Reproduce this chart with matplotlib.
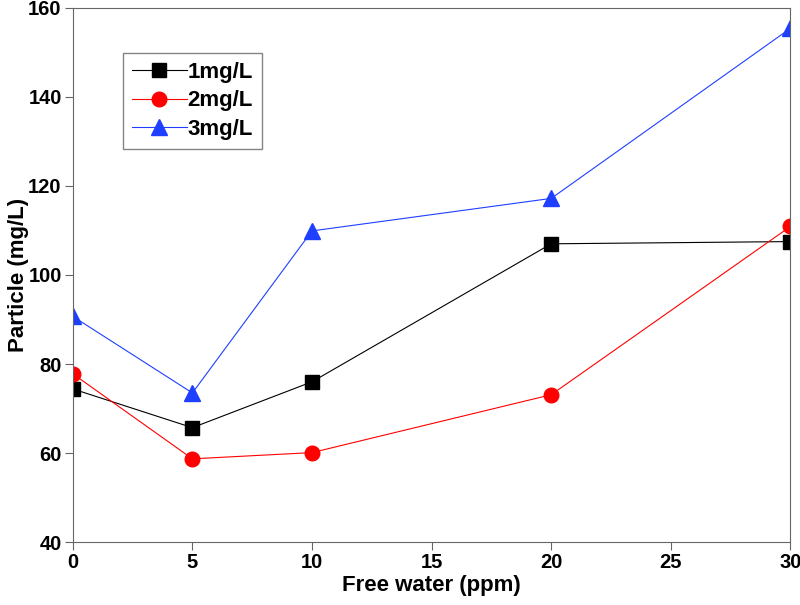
import numpy as np
import matplotlib.pyplot as plt

plt.rcParams['font.family'] = ['Liberation Sans', 'DejaVu Sans']
plt.rcParams['font.weight'] = 'bold'

x = [0, 5, 10, 20, 30]
y1 = [74.4, 65.7, 76.0, 107.0, 107.5]
y2 = [77.8, 58.7, 60.1, 73.1, 110.9]
y3 = [90.7, 73.5, 109.9, 117.2, 155.4]
labels = ['1mg/L', '2mg/L', '3mg/L']

fig = plt.figure(figsize=(8, 6.05), dpi=100)
ax = fig.add_axes([0.091, 0.104, 0.897, 0.883])

ax.plot(x, y1, color='black', lw=0.8, marker='s', ms=10, label=labels[0])
ax.plot(x, y2, color='#ff0000', lw=0.8, marker='o', ms=10.5, label=labels[1])
ax.plot(x, y3, color='#1f3fff', lw=0.8, marker='^', ms=12, label=labels[2])

ax.set_xlim(0, 30)
ax.set_ylim(40, 160)
ax.set_xticks([0, 5, 10, 15, 20, 25, 30])
ax.set_yticks(np.arange(40, 161, 20))
ax.tick_params(labelsize=14.5, color='#666666', direction='out', length=6, pad=2)
for s in ax.spines.values():
    s.set_color('#666666')
for lab in ax.get_xticklabels() + ax.get_yticklabels():
    lab.set_fontweight('bold')

ax.set_xlabel('Free water (ppm)', fontsize=16, fontweight='bold', labelpad=2)
ax.set_ylabel('Particle (mg/L)', fontsize=16, fontweight='bold')
ax.yaxis.set_label_coords(-0.061, 0.5)

leg = ax.legend(loc='upper left', bbox_to_anchor=(0.0697, 0.916), borderaxespad=0,
                fontsize=16, fancybox=False, edgecolor='#666666', handlelength=2.5,
                handletextpad=0.0, borderpad=0.4, labelspacing=0.35)
leg.get_frame().set_linewidth(1.0)
for t in leg.get_texts():
    t.set_fontweight('bold')

fig.savefig('out.png', dpi=100)
